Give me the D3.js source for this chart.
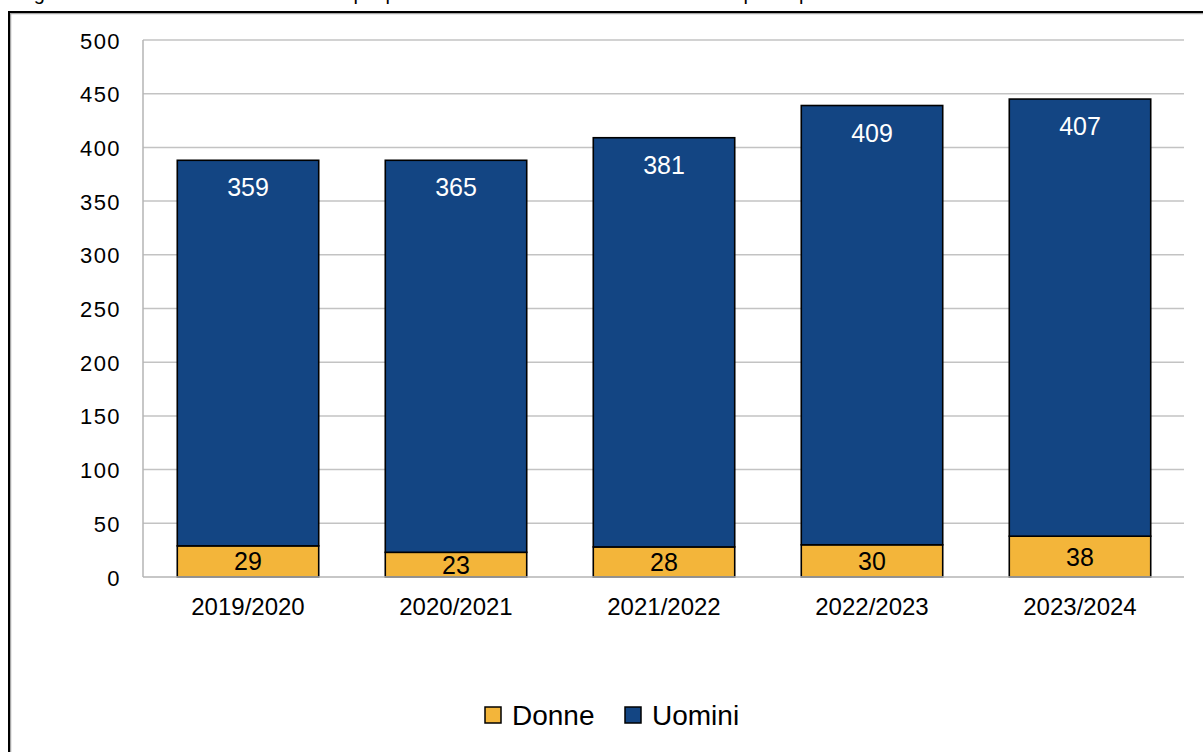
<!DOCTYPE html>
<html><head><meta charset="utf-8">
<script src="https://cdn.jsdelivr.net/npm/d3@7"></script>
<style>
body{margin:0;background:#fff;overflow:hidden}
svg{display:block;font-family:Arial,"Liberation Sans",sans-serif}
</style>
</head><body>
<svg id="c" width="1203" height="752"></svg>
<script>
const categories = ["2019/2020","2020/2021","2021/2022","2022/2023","2023/2024"];
const donne = [29,23,28,30,38];
const uomini = [359,365,381,409,407];
const seriesNames = ["Donne","Uomini"];
const seriesColors = ["#F3B53A","#134583"];
const yTickValues = [0,50,100,150,200,250,300,350,400,450,500];
const titleParts = ["Figura 1 – Andamento del numero di","per","personale docente e ricercatore di ruolo","per la parte femminile e maschile"];

const svg = d3.select("#c");
const W = 1203, H = 752;
const M = {left:144, right:1184, top:40, bottom:577};

// title, cut off at the top edge (only descenders visible, as in the reference)
const titleX = [17, 353.5, 385.5, 743.5];
const tt = svg.append("text").attr("y",0).attr("font-size",20).attr("fill","#000");
titleParts.forEach((p,i)=>{
  tt.append("tspan").attr("x",titleX[i]).text(p);
});

// frame
svg.append("rect").attr("x",10.5).attr("y",13.5).attr("width",W).attr("height",H)
  .attr("fill","none").attr("stroke","#a6a6a6").attr("stroke-width",1.5);
svg.append("rect").attr("x",9).attr("y",12).attr("width",W).attr("height",H)
  .attr("fill","none").attr("stroke","#000").attr("stroke-width",2);

const x = d3.scaleBand().domain(categories).range([M.left, M.right]).paddingInner(0.32).paddingOuter(0.16);
const y = d3.scaleLinear().domain([0,500]).range([M.bottom, M.top]);

// gridlines
svg.append("g").selectAll("line").data(yTickValues.filter(d=>d>0)).join("line")
  .attr("x1",M.left-1).attr("x2",M.right).attr("y1",d=>y(d)).attr("y2",d=>y(d))
  .attr("stroke","#c3c3c3").attr("stroke-width",1.5);

// axis line
svg.append("line").attr("x1",M.left-1).attr("x2",M.left-1).attr("y1",M.top).attr("y2",M.bottom)
  .attr("stroke","#b5b5b5").attr("stroke-width",1.5);

// y tick labels
svg.append("g").selectAll("text").data(yTickValues).join("text")
  .attr("x",121).attr("y",d=>y(d)+1).attr("text-anchor","end").attr("dominant-baseline","central")
  .attr("font-size",22).attr("letter-spacing","1.4px").attr("fill","#000").text(d=>d);

// stacked data
const table = categories.map((c,i)=>({cat:c, Donne:donne[i], Uomini:uomini[i]}));
const stacked = d3.stack().keys(seriesNames)(table);

const gBars = svg.append("g");
stacked.forEach((s,si)=>{
  gBars.append("g").selectAll("rect").data(s).join("rect")
    .attr("x",d=>x(d.data.cat)).attr("width",x.bandwidth())
    .attr("y",d=>y(d[1])).attr("height",d=>y(d[0])-y(d[1]))
    .attr("fill",seriesColors[si]).attr("stroke","#000").attr("stroke-width",1.6);
});

// bottom axis line
svg.append("line").attr("x1",M.left-1).attr("x2",M.right).attr("y1",M.bottom).attr("y2",M.bottom)
  .attr("stroke","#b5b5b5").attr("stroke-width",1.5);

// value labels
svg.append("g").selectAll("text").data(stacked[0]).join("text")
  .attr("x",d=>x(d.data.cat)+x.bandwidth()/2).attr("y",d=>(y(d[0])+y(d[1]))/2)
  .attr("text-anchor","middle").attr("dominant-baseline","central")
  .attr("font-size",25).attr("fill","#000").text(d=>d.data.Donne);
svg.append("g").selectAll("text").data(stacked[1]).join("text")
  .attr("x",d=>x(d.data.cat)+x.bandwidth()/2).attr("y",d=>y(d[1])+27)
  .attr("text-anchor","middle").attr("dominant-baseline","central")
  .attr("font-size",25).attr("fill","#fff").text(d=>d.data.Uomini);

// x labels
svg.append("g").selectAll("text").data(categories).join("text")
  .attr("x",d=>x(d)+x.bandwidth()/2).attr("y",606).attr("text-anchor","middle").attr("dominant-baseline","central")
  .attr("font-size",24).attr("fill","#000").text(d=>d);

// legend
const legX = [485,625];
const lg = svg.append("g");
seriesNames.forEach((n,i)=>{
  lg.append("rect").attr("x",legX[i]).attr("y",707).attr("width",16).attr("height",16)
    .attr("fill",seriesColors[i]).attr("stroke","#000").attr("stroke-width",1.5);
  lg.append("text").attr("x",legX[i]+27).attr("y",715).attr("dominant-baseline","central")
    .attr("font-size",28).attr("fill","#000").text(n);
});
</script>
</body></html>
